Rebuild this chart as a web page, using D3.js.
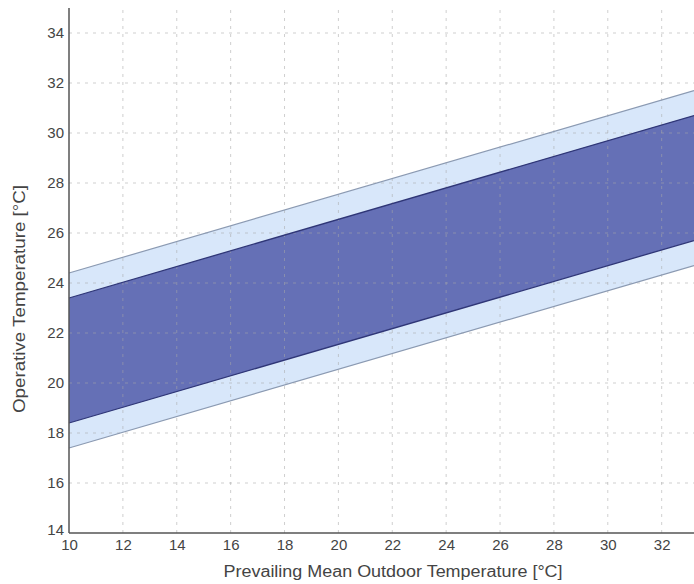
<!DOCTYPE html>
<html><head><meta charset="utf-8">
<script src="https://cdn.jsdelivr.net/npm/d3@7"></script>
<style>body{margin:0;background:#fff}</style>
</head><body>
<svg id="c" width="694" height="584"></svg>
<script>
// Data: prevailing mean outdoor temperature and comfort band limits (°C)
const outdoorT = [10, 33.2];
const band80Upper = [24.4, 31.7];
const band80Lower = [17.4, 24.7];
const band90Upper = [23.4, 30.7];
const band90Lower = [18.4, 25.7];
const xTicks = [10,12,14,16,18,20,22,24,26,28,30,32];
const yTicks = [14,16,18,20,22,24,26,28,30,32,34];

const svg = d3.select("#c");
const m = {l:69, r:0, t:8, b:51};
const W = 694, H = 584;
const x = d3.scaleLinear().domain([10, 33.2]).range([m.l, W - m.r]);
const y = d3.scaleLinear().domain([14, 35]).range([H - m.b, H - m.b - 21*25]);

const area = (lo, hi) => d3.area()
  .x((d,i)=>x(outdoorT[i]))
  .y0((d,i)=>y(lo[i]))
  .y1((d,i)=>y(hi[i]))(outdoorT);
const line = arr => d3.line().x((d,i)=>x(outdoorT[i])).y((d,i)=>y(arr[i]))(outdoorT);

// outer band (80%)
svg.append("path").attr("d", area(band80Lower, band80Upper)).attr("fill", "#d8e7fa");
// inner band (90%)
svg.append("path").attr("d", area(band90Lower, band90Upper)).attr("fill", "#6570b6");

// grid
const g = svg.append("g");
g.selectAll(".gx").data(xTicks.slice(1)).join("line")
  .attr("x1", d=>x(d)).attr("x2", d=>x(d)).attr("y1", y(14)).attr("y2", y(35))
  .attr("stroke", "#a8a8a8").attr("stroke-opacity", 0.55).attr("stroke-dasharray", "3,5");
g.selectAll(".gy").data(yTicks.slice(1)).join("line")
  .attr("x1", x(10)).attr("x2", W).attr("y1", d=>y(d)).attr("y2", d=>y(d))
  .attr("stroke", "#a8a8a8").attr("stroke-opacity", 0.55).attr("stroke-dasharray", "3,5");

// edges
svg.append("path").attr("d", line(band80Upper)).attr("stroke", "#8b9ab2").attr("stroke-width", 1.2).attr("fill", "none");
svg.append("path").attr("d", line(band80Lower)).attr("stroke", "#8b9ab2").attr("stroke-width", 1.2).attr("fill", "none");
svg.append("path").attr("d", line(band90Upper)).attr("stroke", "#2f3677").attr("stroke-width", 1.3).attr("fill", "none");
svg.append("path").attr("d", line(band90Lower)).attr("stroke", "#2f3677").attr("stroke-width", 1.3).attr("fill", "none");

// axes
const font = "'Liberation Sans', Arial, sans-serif";
const xa = svg.append("g").attr("transform", `translate(0,${y(14)})`)
  .call(d3.axisBottom(x).tickValues(xTicks).tickSize(0).tickPadding(6));
const ya = svg.append("g").attr("transform", `translate(${x(10)},0)`)
  .call(d3.axisLeft(y).tickValues(yTicks).tickSize(0).tickPadding(5));
[xa, ya].forEach(a => {
  a.select(".domain").attr("stroke", "#555").attr("stroke-width", 1.5);
  a.selectAll("text").attr("font-family", font).attr("font-size", 15).attr("fill", "#444");
});
ya.selectAll(".tick").filter(d => d === 14).select("text").attr("dy", "0.1em");
xa.select(".domain").attr("d", `M${x(10)},0H${W}`);
ya.select(".domain").attr("d", `M0,${y(14)}V${y(35)}`);

svg.append("text").attr("x", 393).attr("y", 577).attr("text-anchor", "middle")
  .attr("font-family", font).attr("font-size", 16).attr("fill", "#444")
  .attr("textLength", 339).attr("lengthAdjust", "spacingAndGlyphs")
  .text("Prevailing Mean Outdoor Temperature [°C]");
svg.append("text").attr("transform", "translate(25,299) rotate(-90)").attr("text-anchor", "middle")
  .attr("font-family", font).attr("font-size", 16).attr("fill", "#444")
  .attr("textLength", 228).attr("lengthAdjust", "spacingAndGlyphs")
  .text("Operative Temperature [°C]");
</script>
</body></html>
